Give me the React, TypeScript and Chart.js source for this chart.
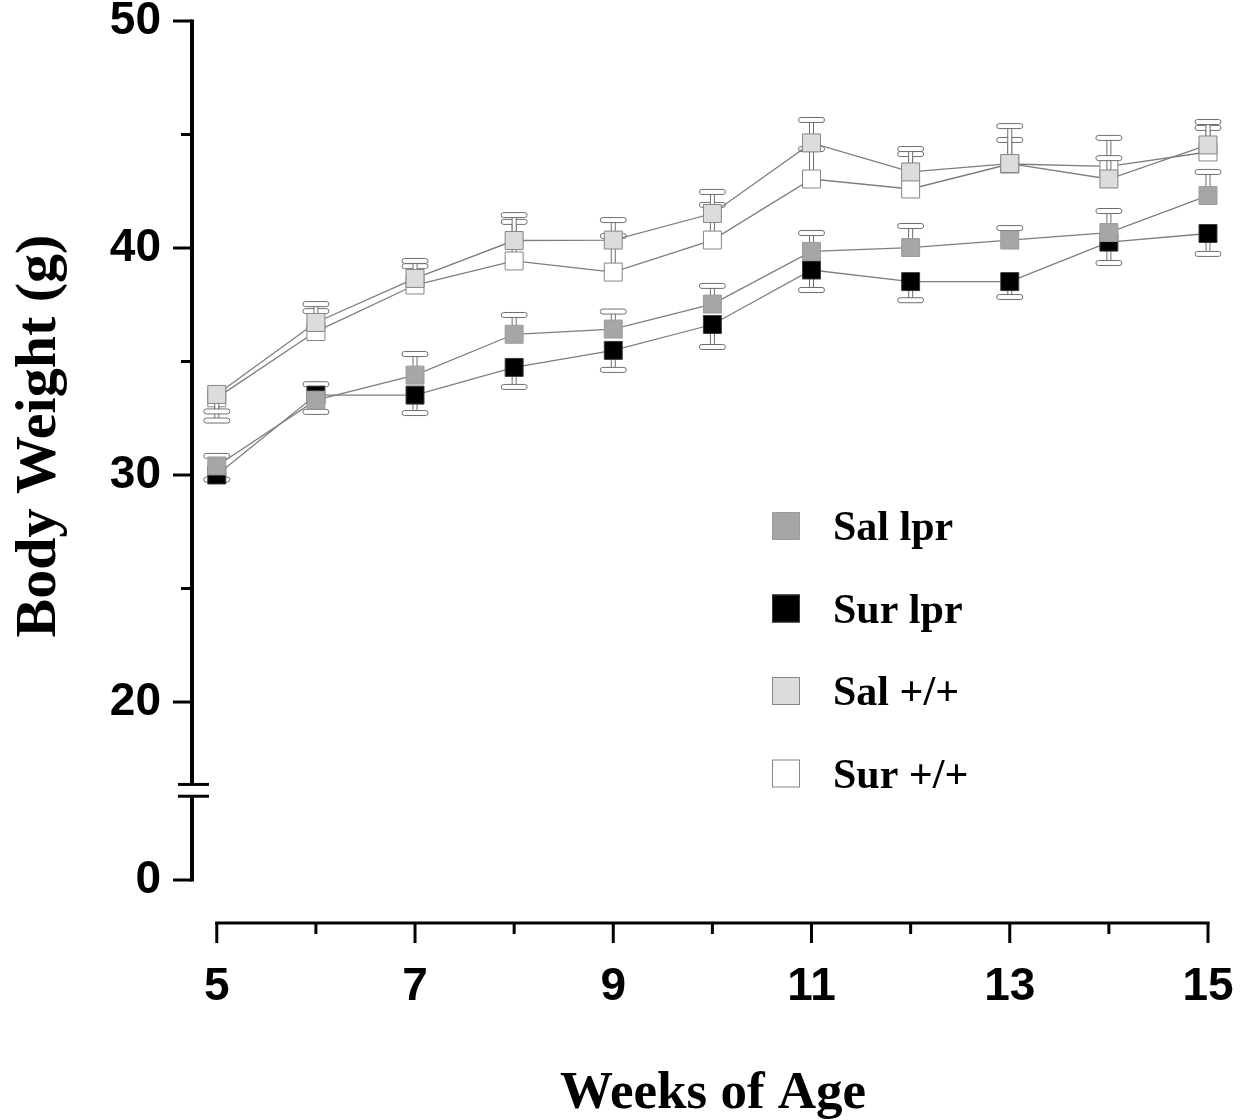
import React, { useEffect, useRef } from 'react';
import { Chart, registerables } from 'chart.js';

Chart.register(...registerables);

// ---------- data ----------
const WEEKS = [5, 6, 7, 8, 9, 10, 11, 12, 13, 14, 15];
const SERIES_NAMES = ['Sal lpr', 'Sur lpr', 'Sal +/+', 'Sur +/+'];

const SAL_LPR = [30.4, 33.3, 34.4, 36.2, 36.43, 37.53, 39.85, 40.02, 40.35, 40.68, 42.31];
const SAL_LPR_ERR_END = [30.84, 32.78, 35.33, 37.05, 37.2, 38.33, 40.66, 40.97, 40.88, 41.63, 43.35];

const SUR_LPR = [30.0, 33.52, 33.52, 34.74, 35.49, 36.63, 39.03, 38.52, 38.52, 40.26, 40.64];
const SUR_LPR_ERR_END = [29.8, 34.0, 32.73, 33.88, 34.63, 35.64, 38.15, 37.7, 37.84, 39.34, 39.74];

const SAL_WT = [33.55, 36.72, 38.66, 40.33, 40.35, 41.52, 44.63, 43.35, 43.72, 43.04, 44.54];
const SAL_WT_ERR_END = [32.8, 37.53, 39.43, 41.45, 41.23, 42.47, 45.64, 44.36, 45.37, 43.96, 45.55];

const SUR_WT = [33.4, 36.32, 38.37, 39.43, 38.94, 40.35, 43.04, 42.6, 43.7, 43.6, 44.23];
const SUR_WT_ERR_END = [32.4, 37.22, 39.2, 41.15, 40.53, 41.9, 44.36, 44.14, 44.76, 44.85, 45.29];

// axis (broken y axis: "0" sits below the break)
const Y_LABELED = [20, 30, 40, 50];
const Y_MINOR = [25, 35, 45];
const Y_MIN = 10.31;
const Y_MAX = 50;
const Y_ZERO_POS = 12.16;
const Y_ZERO_LABEL = '0';
const BREAK_HI = 16.37;
const BREAK_LO = 15.85;
const X_MIN = 4.75;
const X_MAX = 15;

const X_TITLE = 'Weeks of Age';
const Y_TITLE = 'Body Weight (g)';

const SANS = "'Liberation Sans', Arial, Helvetica, sans-serif";
const SERIF = "'Liberation Serif', 'Times New Roman', Times, serif";

export default function App() {
  const ref = useRef<HTMLCanvasElement>(null);

  useEffect(() => {
    const canvas = ref.current;
    if (!canvas) return;

    const seriesVals = [SAL_LPR, SUR_LPR, SAL_WT, SUR_WT];
    const errEnds = [SAL_LPR_ERR_END, SUR_LPR_ERR_END, SAL_WT_ERR_END, SUR_WT_ERR_END];
    const fills = ['#a6a6a6', '#000000', '#dcdcdc', '#ffffff'];
    const borders = ['#9c9c9c', '#3a3a3a', '#858585', '#858585'];

    const seg = (ctx: CanvasRenderingContext2D, x1: number, y1: number, x2: number, y2: number) => {
      ctx.beginPath();
      ctx.moveTo(x1, y1);
      ctx.lineTo(x2, y2);
      ctx.stroke();
    };

    const errorBarPlugin = {
      id: 'errorBars',
      beforeDatasetDraw(chart: any, args: any) {
        const ctx: CanvasRenderingContext2D = chart.ctx;
        const ends = errEnds[args.index];
        const ys = chart.scales.y;
        ctx.save();
        ctx.lineWidth = 1;
        ctx.strokeStyle = '#6e6e6e';
        ctx.fillStyle = '#ffffff';
        args.meta.data.forEach((pt: any, i: number) => {
          const x = pt.x;
          const y = pt.y;
          const ye = ys.getPixelForValue(ends[i]);
          const top = Math.min(y, ye);
          const h = Math.abs(ye - y);
          ctx.fillRect(x - 2, top, 4, h);
          ctx.strokeRect(x - 2, top, 4, h);
          ctx.beginPath();
          (ctx as any).roundRect(x - 13, ye - 2.5, 26, 5, 2.5);
          ctx.fill();
          ctx.stroke();
        });
        ctx.restore();
      },
    };

    const axesPlugin = {
      id: 'customAxes',
      afterDraw(chart: any) {
        const ctx: CanvasRenderingContext2D = chart.ctx;
        const ys = chart.scales.y;
        const xs = chart.scales.x;
        const L = chart.chartArea.left;
        const B = chart.chartArea.bottom;
        const yp = (v: number) => ys.getPixelForValue(v);
        const xp = (v: number) => xs.getPixelForValue(v);
        ctx.save();
        ctx.strokeStyle = '#000';
        ctx.lineCap = 'butt';
        ctx.lineWidth = 4;
        seg(ctx, L, yp(Y_MAX) - 1.5, L, yp(BREAK_HI));
        seg(ctx, L, yp(BREAK_LO), L, yp(Y_ZERO_POS) + 1.5);
        ctx.lineWidth = 3;
        [Y_ZERO_POS, ...Y_LABELED].forEach((v) => seg(ctx, L - 19, yp(v), L, yp(v)));
        Y_MINOR.forEach((v) => seg(ctx, L - 11, yp(v), L, yp(v)));
        seg(ctx, L - 14, yp(BREAK_HI), L + 17, yp(BREAK_HI));
        seg(ctx, L - 14, yp(BREAK_LO), L + 17, yp(BREAK_LO));
        // x axis
        seg(ctx, xp(WEEKS[0]) - 1.5, B + 1, xp(WEEKS[WEEKS.length - 1]) + 1.5, B + 1);
        WEEKS.forEach((w) => seg(ctx, xp(w), B, xp(w), B + (w % 2 === 1 ? 21 : 12)));

        // axis titles
        ctx.fillStyle = '#000';
        ctx.font = `bold 53px ${SERIF}`;
        ctx.textAlign = 'center';
        ctx.textBaseline = 'alphabetic';
        ctx.fillText(X_TITLE, 713, 1108);
        ctx.save();
        ctx.translate(55, 436);
        ctx.rotate(-Math.PI / 2);
        ctx.font = `bold 58px ${SERIF}`;
        ctx.fillText(Y_TITLE, 0, 0);
        ctx.restore();

        // legend
        const LX = 772;
        const LTOP = 512;
        const STEP = 82.5;
        const BOX = 28;
        ctx.font = `bold 42px ${SERIF}`;
        ctx.textAlign = 'left';
        SERIES_NAMES.forEach((name, i) => {
          const top = LTOP + i * STEP;
          ctx.fillStyle = fills[i];
          ctx.fillRect(LX, top, BOX, BOX);
          ctx.lineWidth = 1;
          ctx.strokeStyle = borders[i];
          ctx.strokeRect(LX + 0.5, top + 0.5, BOX - 1, BOX - 1);
          ctx.fillStyle = '#000';
          ctx.fillText(name, 833, top + BOX);
        });
        ctx.restore();
      },
    };

    const chart = new Chart(canvas, {
      type: 'line',
      data: {
        datasets: seriesVals.map((vals, i) => ({
          label: SERIES_NAMES[i],
          data: WEEKS.map((w, j) => ({ x: w, y: vals[j] })),
          borderColor: '#7d7d7d',
          borderWidth: 1.3,
          pointStyle: 'rect',
          pointRadius: 12.7,
          pointHoverRadius: 12.7,
          pointBackgroundColor: fills[i],
          pointBorderColor: borders[i],
          pointBorderWidth: 1,
          fill: false,
          tension: 0,
          clip: false as any,
        })),
      },
      options: {
        animation: false,
        responsive: false,
        events: [],
        layout: { padding: { left: 0, top: 21, right: 41, bottom: 0 } },
        plugins: { legend: { display: false }, tooltip: { enabled: false } },
        scales: {
          x: {
            type: 'linear',
            min: X_MIN,
            max: X_MAX,
            afterBuildTicks: (s: any) => {
              s.ticks = WEEKS.map((v) => ({ value: v }));
            },
            afterFit: (s: any) => {
              s.height = 198;
              s.paddingLeft = 0;
              s.paddingRight = 0;
            },
            grid: { display: false, drawTicks: false },
            border: { display: false },
            ticks: {
              padding: 38,
              autoSkip: false,
              maxRotation: 0,
              color: '#000',
              font: { family: SANS, size: 46, weight: 'bold' },
              callback: (v: any) => (Number(v) % 2 === 1 ? String(v) : ''),
            },
          },
          y: {
            type: 'linear',
            min: Y_MIN,
            max: Y_MAX,
            afterBuildTicks: (s: any) => {
              s.ticks = [Y_ZERO_POS, ...Y_LABELED].map((v) => ({ value: v }));
            },
            afterFit: (s: any) => {
              s.width = 192;
              s.paddingTop = 0;
              s.paddingBottom = 0;
            },
            grid: { display: false, drawTicks: false },
            border: { display: false },
            ticks: {
              padding: 31,
              autoSkip: false,
              color: '#000',
              font: { family: SANS, size: 46, weight: 'bold' },
              callback: (v: any) => (v === Y_ZERO_POS ? Y_ZERO_LABEL : String(v)),
            },
          },
        },
      },
      plugins: [errorBarPlugin, axesPlugin],
    });

    return () => chart.destroy();
  }, []);

  return (
    <div style={{ position: 'absolute', left: 0, top: 0, width: 1249, height: 1120, background: '#fff' }}>
      <canvas ref={ref} width={1249} height={1120} style={{ display: 'block' }} />
    </div>
  );
}
